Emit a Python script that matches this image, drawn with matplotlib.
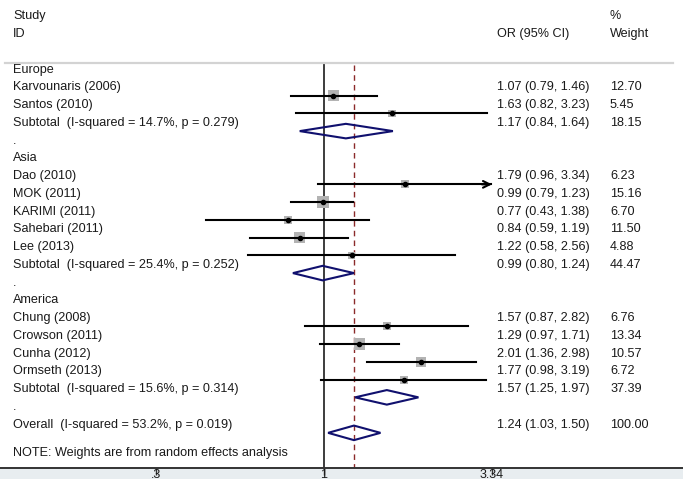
import matplotlib
matplotlib.use("Agg")
import matplotlib.pyplot as plt
import numpy as np
from matplotlib.patches import Polygon, Rectangle

plt.rcParams["font.family"] = ["Liberation Sans", "DejaVu Sans"]

# study-level data
regions = ["Europe", "Asia", "America"]
study_region = ["Europe", "Europe", "Asia", "Asia", "Asia", "Asia", "Asia",
                "America", "America", "America", "America"]
studies = ["Karvounaris (2006)", "Santos (2010)", "Dao (2010)", "MOK (2011)",
           "KARIMI (2011)", "Sahebari (2011)", "Lee (2013)", "Chung (2008)",
           "Crowson (2011)", "Cunha (2012)", "Ormseth (2013)"]
or_est = [1.07, 1.63, 1.79, 0.99, 0.77, 0.84, 1.22, 1.57, 1.29, 2.01, 1.77]
ci_lo = [0.79, 0.82, 0.96, 0.79, 0.43, 0.59, 0.58, 0.87, 0.97, 1.36, 0.98]
ci_hi = [1.46, 3.23, 3.34, 1.23, 1.38, 1.19, 2.56, 2.82, 1.71, 2.98, 3.19]
weights = [12.70, 5.45, 6.23, 15.16, 6.70, 11.50, 4.88, 6.76, 13.34, 10.57, 6.72]

# subgroup pooled estimates
sub_i2 = ["14.7%", "25.4%", "15.6%"]
sub_p = ["0.279", "0.252", "0.314"]
sub_or = [1.17, 0.99, 1.57]
sub_lo = [0.84, 0.80, 1.25]
sub_hi = [1.64, 1.24, 1.97]
sub_w = [18.15, 44.47, 37.39]

# overall
all_i2, all_p = "53.2%", "0.019"
all_or, all_lo, all_hi, all_w = 1.24, 1.03, 1.50, 100.00

tick_vals = [0.3, 1, 3.34]
tick_labels = [".3", "1", "3.34"]

fig = plt.figure(figsize=(6.83, 4.86), dpi=100)
fig.patches.append(Rectangle((0, 7 / 486), 1, 11 / 486, transform=fig.transFigure,
                             facecolor="#e8edf0", edgecolor="none", zorder=-5))
ax = fig.add_axes([0, 18 / 486, 1, 468 / 486])
ax.set_xscale("log")
ax.set_xlim(0.0977, 13.16)
ax.set_ylim(20.98, -5.386)
ax.patch.set_alpha(0)

fs = 9.05
tcol = "#1a1a1a"
navy = "#10106e"
trans = ax.get_yaxis_transform()
x_lab, x_or, x_w = 13 / 683, 497 / 683, 610 / 683
toff = -0.47  # text sits a bit above the marks


def put_text(row, label, ci=None, w=None):
    ax.text(x_lab, row + toff, label, transform=trans, fontsize=fs, color=tcol, va="center")
    if ci is not None:
        ax.text(x_or, row + toff, ci, transform=trans, fontsize=fs, color=tcol, va="center")
    if w is not None:
        ax.text(x_w, row + toff, w, transform=trans, fontsize=fs, color=tcol, va="center")


def diamond(row, est, lo, hi):
    h = 0.41
    ax.add_patch(Polygon([[lo, row], [est, row - h], [hi, row], [est, row + h]],
                         closed=True, fill=False, edgecolor=navy, lw=1.5, zorder=4))


# headers
ax.text(x_lab, -4 + toff, "Study", transform=trans, fontsize=fs, color=tcol, va="center")
ax.text(x_lab, -3 + toff, "ID", transform=trans, fontsize=fs, color=tcol, va="center")
ax.text(x_or, -3 + toff, "OR (95% CI)", transform=trans, fontsize=fs, color=tcol, va="center")
ax.text(x_w, -4 + toff, "%", transform=trans, fontsize=fs, color=tcol, va="center")
ax.text(x_w, -3 + toff, "Weight", transform=trans, fontsize=fs, color=tcol, va="center")
ax.plot([5 / 683, 673 / 683], [-1.82, -1.82], transform=trans, color="#d3d3d3", lw=1.6)

xmax_ci = tick_vals[-1]
row = -1
for g, reg in enumerate(regions):
    put_text(row, reg)
    row += 1
    for k in range(len(studies)):
        if study_region[k] != reg:
            continue
        put_text(row, studies[k], f"{or_est[k]:.2f} ({ci_lo[k]:.2f}, {ci_hi[k]:.2f})",
                 f"{weights[k]:.2f}")
        if ci_hi[k] >= xmax_ci:
            ax.plot([ci_lo[k], ci_hi[k] * 0.99], [row, row], color="black", lw=1.5, zorder=3)
            ax.annotate("", xy=(ci_hi[k], row), xytext=(ci_hi[k] * 0.93, row),
                        arrowprops=dict(arrowstyle="->", color="black", lw=1.5,
                                        mutation_scale=12, shrinkA=0, shrinkB=0),
                        zorder=3)
        else:
            ax.plot([ci_lo[k], ci_hi[k]], [row, row], color="black", lw=1.5, zorder=3)
        ax.scatter([or_est[k]], [row], marker="s", s=5.0 * weights[k], color="#b3b3b3",
                   edgecolors="none", zorder=2)
        ax.scatter([or_est[k]], [row], marker="o", s=9, color="black", zorder=4)
        row += 1
    put_text(row, f"Subtotal  (I-squared = {sub_i2[g]}, p = {sub_p[g]})",
             f"{sub_or[g]:.2f} ({sub_lo[g]:.2f}, {sub_hi[g]:.2f})", f"{sub_w[g]:.2f}")
    diamond(row, sub_or[g], sub_lo[g], sub_hi[g])
    row += 1
    put_text(row, ".")
    row += 1

put_text(row, f"Overall  (I-squared = {all_i2}, p = {all_p})",
         f"{all_or:.2f} ({all_lo:.2f}, {all_hi:.2f})", f"{all_w:.2f}")
diamond(row, all_or, all_lo, all_hi)
ax.text(x_lab, row + 1.14, "NOTE: Weights are from random effects analysis",
        transform=trans, fontsize=fs, color=tcol, va="center")

# null line and overall effect line
ax.plot([1, 1], [-1.72, 20.98], color="#3c3c3c", lw=1.4, zorder=1)
ax.plot([all_or, all_or], [-1.72, 20.98], color="#8b2a2a", lw=1.0,
        linestyle=(0, (4, 3)), zorder=1)

# axis
for s in ["top", "left", "right"]:
    ax.spines[s].set_visible(False)
ax.spines["bottom"].set_color("#333333")
ax.spines["bottom"].set_linewidth(1.4)
ax.set_yticks([])
ax.set_xticks(tick_vals)
ax.set_xticklabels(tick_labels)
ax.xaxis.set_minor_locator(matplotlib.ticker.NullLocator())
ax.tick_params(axis="x", direction="out", length=5, width=1, colors="#333333",
               labelsize=9, pad=-4.5, labelcolor=tcol)

fig.savefig("out.png", dpi=100)
